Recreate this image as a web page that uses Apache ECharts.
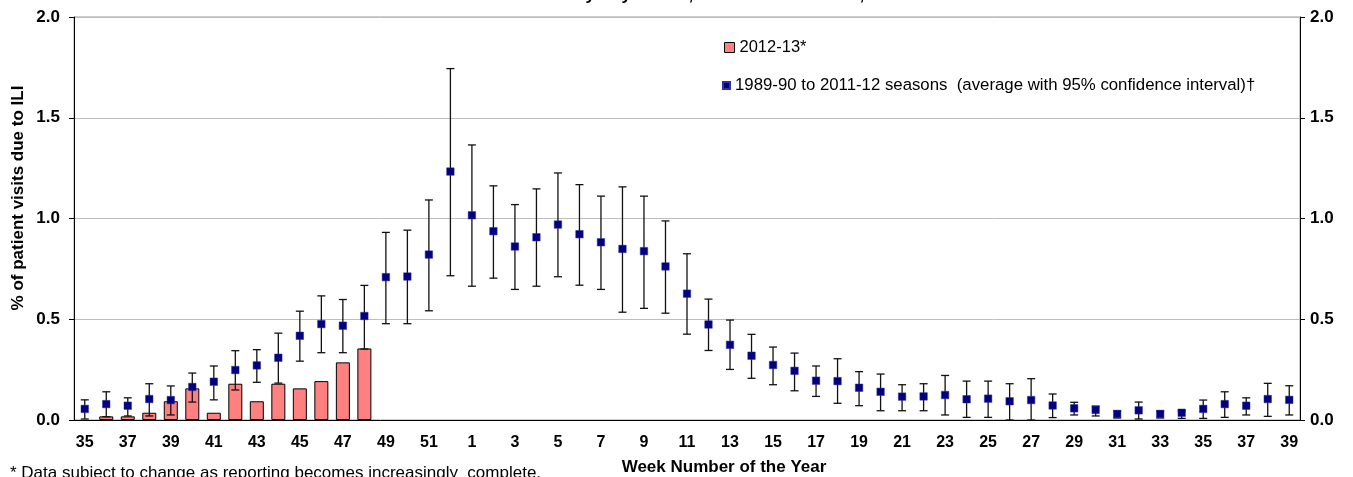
<!DOCTYPE html>
<html>
<head>
<meta charset="utf-8">
<script src="https://cdn.jsdelivr.net/npm/echarts@6/dist/echarts.min.js"></script>
<style>
html,body{margin:0;padding:0;background:#fff;}
#chart{width:1353px;height:477px;}
</style>
</head>
<body>
<div id="chart"></div>
<script>
// Week categories: 2012 weeks 35-52, then 2013 weeks 1-39
var weeks = ['35','36','37','38','39','40','41','42','43','44','45','46','47','48','49','50','51','52',
  '1','2','3','4','5','6','7','8','9','10','11','12','13','14','15','16','17','18','19','20',
  '21','22','23','24','25','26','27','28','29','30','31','32','33','34','35','36','37','38','39'];

// 2012-13 season (% of visits due to ILI)
var season2012 = [null,0.018,0.018,0.036,0.093,0.157,0.036,0.18,0.093,0.18,0.157,0.193,0.286,0.355];

// 1989-90 to 2011-12 average
var avgValues = [0.055,0.079,0.071,0.104,0.099,0.164,0.19,0.248,0.271,0.309,0.418,0.476,0.468,0.516,
  0.709,0.712,0.821,1.233,1.016,0.937,0.861,0.907,0.970,0.922,0.882,0.849,0.838,0.762,0.627,0.474,
  0.373,0.319,0.273,0.244,0.195,0.193,0.160,0.140,0.116,0.117,0.124,0.103,0.106,0.093,0.099,0.072,
  0.058,0.050,0.030,0.048,0.030,0.036,0.055,0.079,0.071,0.104,0.100];

// 95% confidence interval upper bounds
var ciHigh = [0.10,0.14,0.11,0.18,0.169,0.233,0.268,0.344,0.349,0.431,0.54,0.616,0.598,0.668,
  0.931,0.942,1.092,1.744,1.365,1.162,1.069,1.147,1.226,1.168,1.111,1.157,1.111,0.988,0.825,0.60,
  0.496,0.425,0.362,0.332,0.268,0.304,0.24,0.228,0.175,0.18,0.221,0.193,0.193,0.18,0.205,0.129,
  0.088,0.069,0.045,0.089,0.045,0.046,0.099,0.14,0.11,0.182,0.17];

// 95% confidence interval lower bounds
var ciLow = [0.005,0.016,0.02,0.02,0.025,0.089,0.10,0.149,0.187,0.183,0.292,0.334,0.334,0.352,
  0.478,0.478,0.542,0.716,0.664,0.704,0.648,0.664,0.711,0.669,0.648,0.535,0.554,0.530,0.426,0.345,
  0.251,0.207,0.175,0.145,0.117,0.083,0.071,0.046,0.046,0.046,0.025,0.013,0.013,0.0,0.0,0.012,
  0.025,0.020,0.010,0.005,0.010,0.008,0.008,0.013,0.025,0.018,0.025];

var yTicks = [0, 0.5, 1.0, 1.5, 2.0];

var FONT = '"Liberation Sans", Arial, sans-serif';
var errData = weeks.map(function (w, i) { return [i, ciLow[i], ciHigh[i]]; });
var avgName = '1989-90 to 2011-12 seasons  (average with 95% confidence interval)\u2020';

var chart = echarts.init(document.getElementById('chart'));
chart.setOption({
  animation: false,
  backgroundColor: '#fff',
  grid: { left: 74, right: 53, top: 17, bottom: 57, show: true, borderColor: '#999', borderWidth: 1 },
  legend: [
    {
      left: 724, top: 39, padding: 0, itemWidth: 10, itemHeight: 10, selectedMode: false,
      textStyle: { fontFamily: FONT, fontSize: 16.5, color: '#000' },
      data: [{ name: '2012-13*', icon: 'rect', itemStyle: { color: '#FF8080', borderColor: '#000', borderWidth: 1 } }]
    },
    {
      left: 722, top: 77, padding: 0, itemWidth: 7, itemHeight: 7, selectedMode: false,
      textStyle: { fontFamily: FONT, fontSize: 16.8, color: '#000' },
      data: [{ name: avgName, icon: 'rect' }]
    }
  ],
  xAxis: {
    type: 'category',
    data: weeks,
    boundaryGap: true,
    axisLine: { lineStyle: { color: '#000', width: 1 } },
    axisTick: { interval: 0, length: 5, lineStyle: { color: '#000' } },
    axisLabel: { interval: 1, margin: 15, color: '#000', fontFamily: FONT, fontWeight: 'bold', fontSize: 16 },
    splitLine: { show: false }
  },
  yAxis: [
    {
      type: 'value', min: 0, max: 2, interval: 0.5,
      axisLine: { show: true, lineStyle: { color: '#000' } },
      axisTick: { show: true, length: 5, lineStyle: { color: '#000' } },
      axisLabel: { margin: 14, color: '#000', fontFamily: FONT, fontWeight: 'bold', fontSize: 17,
        formatter: function (v) { return v.toFixed(1); } },
      splitLine: { show: true, lineStyle: { color: '#BEBEBE', width: 1 } }
    },
    {
      type: 'value', min: 0, max: 2, interval: 0.5, position: 'right',
      axisLine: { show: true, lineStyle: { color: '#000' } },
      axisTick: { show: true, length: 5, lineStyle: { color: '#000' } },
      axisLabel: { margin: 10, color: '#000', fontFamily: FONT, fontWeight: 'bold', fontSize: 17,
        formatter: function (v) { return v.toFixed(1); } },
      splitLine: { show: false }
    }
  ],
  series: [
    {
      name: '2012-13*', type: 'bar', data: season2012, barWidth: 14, z: 2,
      itemStyle: { color: '#FF8080', borderColor: '#000', borderWidth: 1 }
    },
    {
      name: 'ci', type: 'custom', data: errData, z: 3,
      encode: { x: 0, y: [1, 2] },
      renderItem: function (params, api) {
        var x = api.value(0);
        var lo = api.coord([x, api.value(1)]);
        var hi = api.coord([x, api.value(2)]);
        var hw = 4;
        var st = { stroke: '#111', lineWidth: 1.3 };
        return {
          type: 'group',
          children: [
            { type: 'line', shape: { x1: hi[0], y1: hi[1], x2: lo[0], y2: lo[1] }, style: st },
            { type: 'line', shape: { x1: hi[0] - hw, y1: hi[1], x2: hi[0] + hw, y2: hi[1] }, style: st },
            { type: 'line', shape: { x1: lo[0] - hw, y1: lo[1], x2: lo[0] + hw, y2: lo[1] }, style: st }
          ]
        };
      }
    },
    {
      name: avgName,
      type: 'scatter', data: avgValues, symbol: 'rect', symbolSize: 7.5, z: 4,
      itemStyle: { color: '#000080', borderColor: '#3030A0', borderWidth: 0.5, opacity: 1 }
    }
  ],
  graphic: [
    { type: 'text', silent: true,
      style: { text: 'Sentinel Ambulatory Physicians, District of Columbia, 2012-2013', x: 690, y: 4,
        textAlign: 'center', textVerticalAlign: 'bottom', font: 'bold 17px ' + FONT, fill: '#000' } },
    { type: 'text', silent: true,
      style: { text: 'Week Number of the Year', x: 724, y: 467, textAlign: 'center', textVerticalAlign: 'middle',
        font: 'bold 17px ' + FONT, fill: '#000' } },
    { type: 'text', silent: true, rotation: Math.PI / 2, x: 18, y: 198,
      style: { text: '% of patient visits due to ILI', x: 0, y: 0, textAlign: 'center', textVerticalAlign: 'middle',
        font: 'bold 17px ' + FONT, fill: '#000' } },
    { type: 'text', silent: true,
      style: { text: '* Data subject to change as reporting becomes increasingly  complete.', x: 10, y: 465,
        textAlign: 'left', textVerticalAlign: 'top', font: '17px ' + FONT, fill: '#000' } }
  ]
});
</script>
</body>
</html>
